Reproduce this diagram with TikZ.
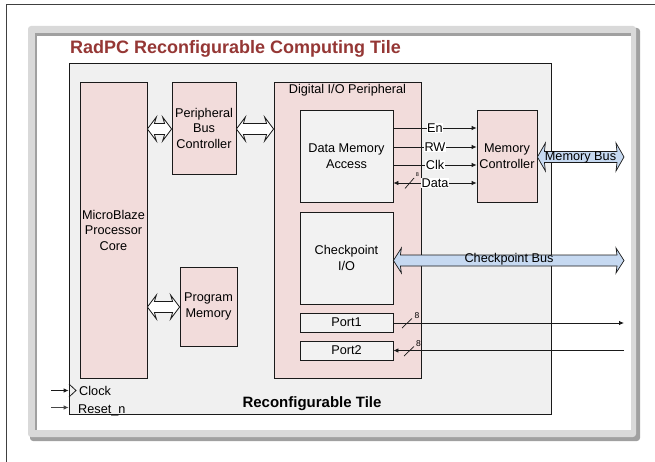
\documentclass[tikz,border=0pt]{standalone}
\usepackage{fontspec}
\setmainfont{Liberation Sans}
\usetikzlibrary{arrows.meta}
\definecolor{pinkf}{HTML}{F2DCDB}
\definecolor{bgf}{HTML}{F0F0F0}
\definecolor{innerf}{HTML}{F2F2F2}
\definecolor{titlered}{HTML}{953735}
\definecolor{busblue}{HTML}{C6D9F1}
\definecolor{framel}{HTML}{D9D9D9}
\definecolor{framed}{HTML}{A0A0A0}
\definecolor{lineclr}{HTML}{1A1A1A}
\newcommand{\hollowarrow}[3]{%
  \draw[lineclr, line width=0.8pt, fill=white, line join=miter]
    (#1,#3) -- ({#1+9},{#3-12}) -- ({#1+7},{#3-5.5}) -- ({#2-7},{#3-5.5}) -- ({#2-9},{#3-12})
    -- (#2,#3) -- ({#2-9},{#3+12}) -- ({#2-7},{#3+5.5}) -- ({#1+7},{#3+5.5}) -- ({#1+9},{#3+12}) -- cycle;}
\newcommand{\busarrow}[4]{%
  \draw[lineclr, line width=0.7pt, fill=busblue, line join=miter]
    (#1,#3) -- ({#1+8},{#3-#4}) -- ({#1+7},{#3-5.5}) -- ({#2-7},{#3-5.5}) -- ({#2-8},{#3-#4})
    -- (#2,#3) -- ({#2-8},{#3+#4}) -- ({#2-7},{#3+5.5}) -- ({#1+7},{#3+5.5}) -- ({#1+8},{#3+#4}) -- cycle;}
\begin{document}
\begin{tikzpicture}[x=1pt,y=-1pt,
  txt/.style={font=\fontsize{12.7}{15.5}\selectfont, align=center, text=black},
  pinkbox/.style={txt, draw=lineclr, line width=0.8pt, fill=pinkf, inner sep=0pt},
  graybox/.style={txt, draw=lineclr, line width=0.8pt, fill=innerf, inner sep=0pt},
  sig/.style={lineclr, line width=0.8pt, -{Latex[length=5pt,width=4.5pt]}},
  sigb/.style={lineclr, line width=0.8pt, {Latex[length=5pt,width=4.5pt]}-{Latex[length=5pt,width=4.5pt]}},
  lbl/.style={txt, fill=white, inner sep=0.6pt},
  small/.style={font=\fontsize{8.5}{8.5}\selectfont, inner sep=0pt}]
\useasboundingbox (0,0) rectangle (655,462);
% page border
\draw[color={rgb,255:red,64;green,64;blue,64}, line width=0.8pt] (6,462) -- (6,4.3) -- (655,4.3);
% gray frame
\fill[framed, rounded corners=3pt] (30,28) rectangle (640,441);
\fill[framel, rounded corners=3pt] (28,26) rectangle (636,437);
\fill[white] (37,36) rectangle (631,430);
\draw[framed, line width=2.5pt] (35.75,430) -- (35.75,34.75) -- (631,34.75);
% title
\node[anchor=base west, inner sep=0pt, font=\fontsize{18}{20}\selectfont\bfseries, text=titlered] (title) at (70,54) {RadPC Reconfigurable Computing Tile};
% tile
\node[draw=lineclr, line width=0.8pt, fill=bgf, minimum width=482pt, minimum height=351pt, inner sep=0pt] (tile) at (310,238.5) {};
% blocks
\node[pinkbox, minimum width=67pt, minimum height=296pt] (mb) at (113.5,230) {MicroBlaze\\Processor\\Core};
\node[pinkbox, minimum width=64pt, minimum height=92pt] (pbc) at (204,128) {Peripheral\\Bus\\Controller};
\node[pinkbox, minimum width=57pt, minimum height=79pt] (pm) at (208.5,306.5) {Program\\Memory};
\node[pinkbox, minimum width=147pt, minimum height=296pt] (dio) at (347.5,230) {};
\node[txt, inner sep=0pt] (diol) at (347.5,90.5) {Digital I/O Peripheral};
\node[graybox, minimum width=93pt, minimum height=92pt] (dma) at (346.5,156) {Data Memory\\Access};
\node[graybox, minimum width=93pt, minimum height=92pt] (cio) at (346.5,258) {Checkpoint\\I/O};
\node[graybox, minimum width=93pt, minimum height=19pt] (p1) at (346.5,322.5) {Port1};
\node[graybox, minimum width=93pt, minimum height=19pt] (p2) at (346.5,350.5) {Port2};
\node[pinkbox, minimum width=60pt, minimum height=92pt] (mc) at (507,156) {Memory\\Controller};
% hollow bus arrows
\hollowarrow{147.4}{171.6}{129}
\hollowarrow{236.4}{273.6}{129}
\hollowarrow{147.4}{179.6}{307}
% signals
\coordinate (yEn) at (0,128);
\coordinate (yRW) at (0,147);
\coordinate (yClk) at (0,165);
\coordinate (yD) at (0,183);
\draw[sig] (dma.east |- yEn) -- node[lbl]{En} (mc.west |- yEn);
\draw[sig] (dma.east |- yRW) -- node[lbl]{RW} (mc.west |- yRW);
\draw[sig] (dma.east |- yClk) -- node[lbl]{Clk} (mc.west |- yClk);
\draw[sigb] (dma.east |- yD) -- node[lbl]{Data} (mc.west |- yD);
\draw[lineclr, line width=0.7pt] (405,188.5) -- (414,178);
\node[font=\fontsize{5.5}{5.5}\selectfont, inner sep=0pt] (d8) at (417.5,175) {8};
% buses
\busarrow{537.4}{624}{157}{14}
\node[txt, inner sep=0pt] (mbus) at (580.5,157) {Memory Bus};
\busarrow{393.4}{624}{260.5}{12.5}
\node[txt, inner sep=0pt] (cbus) at (509,259.5) {Checkpoint Bus};
% ports
\coordinate (p1end) at (624,323);
\coordinate (p2start) at (624,350.5);
\draw[sig] (p1.east |- p1end) -- (p1end);
\draw[sig] (p2start) -- (p2.east |- p2start);
\draw[lineclr, line width=0.7pt] (402,328) -- (412,318.5);
\node[small] (n81) at (417,315.5) {8};
\draw[lineclr, line width=0.7pt] (404,356) -- (414,346.5);
\node[small] (n82) at (418.5,343.5) {8};
% clock / reset
\coordinate (clkin) at (51,390.5);
\coordinate (rstin) at (51,407.5);
\draw[sig] (clkin) -- (tile.west |- clkin);
\draw[sig, color={rgb,255:red,70;green,70;blue,70}] (rstin) -- (tile.west |- rstin);
\draw[lineclr, line width=0.8pt] (69,384) -- (76,390.5) -- (69,397);
\node[txt, anchor=west, inner sep=0pt] (clk) at (79,390.5) {Clock};
\node[txt, anchor=base west, inner sep=0pt] (rst) at (78,413) {Reset\_n};
\node[inner sep=0pt, font=\fontsize{15}{18}\selectfont\bfseries] (tl) at (312,404) {Reconfigurable Tile};
\end{tikzpicture}
\end{document}
